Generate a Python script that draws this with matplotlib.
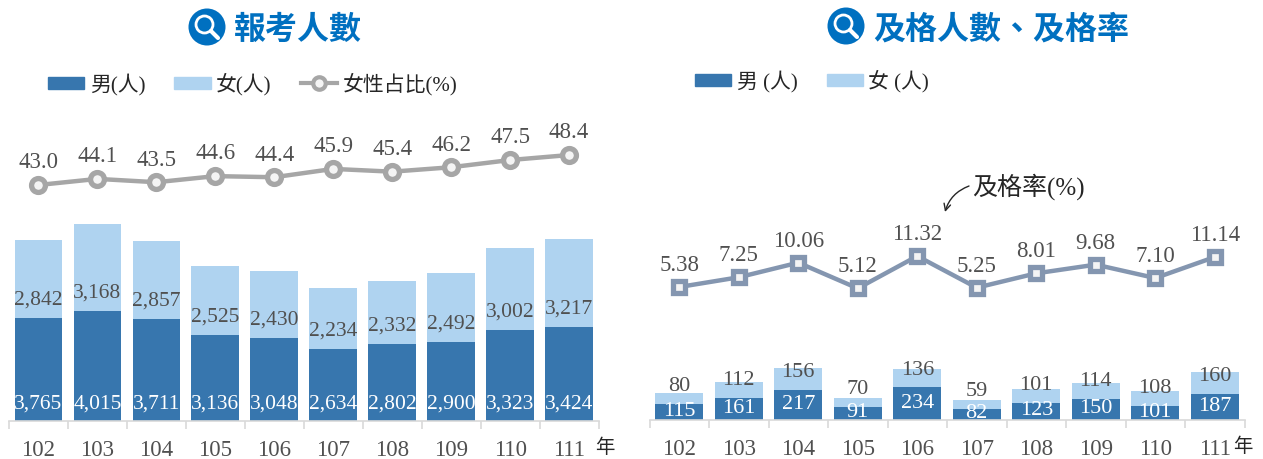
import matplotlib
matplotlib.use("Agg")
import matplotlib.pyplot as plt
from matplotlib.patches import Circle, Patch, FancyArrowPatch
from matplotlib.lines import Line2D

plt.rcParams['font.family'] = ['Liberation Serif', 'Noto Sans CJK TC', 'DejaVu Sans']

years = ['102', '103', '104', '105', '106', '107', '108', '109', '110', '111']
reg_male = [3765, 4015, 3711, 3136, 3048, 2634, 2802, 2900, 3323, 3424]
reg_female = [2842, 3168, 2857, 2525, 2430, 2234, 2332, 2492, 3002, 3217]
female_share = [43.0, 44.1, 43.5, 44.6, 44.4, 45.9, 45.4, 46.2, 47.5, 48.4]
pass_male = [115, 161, 217, 91, 234, 82, 123, 150, 101, 187]
pass_female = [80, 112, 156, 70, 136, 59, 101, 114, 108, 160]
pass_rate = [5.38, 7.25, 10.06, 5.12, 11.32, 5.25, 8.01, 9.68, 7.10, 11.14]

C_M, C_F = '#3776AE', '#AFD3F0'
C_TXT = '#505050'
BLUE = '#0070C0'
W, H = 1263, 459

fig = plt.figure(figsize=(W/100, H/100), dpi=100, facecolor='white')

def make_axes(x0, x1, base, top):
    return fig.add_axes([x0/W, 1-base/H, (x1-x0)/W, (base-top)/H])

def panel(ax, male, female, line, bar_scale, line_ref, line_ref_y, line_scale,
          base, top, line_color, marker, fmt, ms, lab_off):
    x = range(len(years))
    ax.bar(x, male, width=0.81, color=C_M, zorder=2)
    ax.bar(x, female, width=0.81, bottom=male, color=C_F, zorder=2)
    ax.set_xlim(-0.5, len(years)-0.5)
    ax.set_ylim(0, (base-top)/bar_scale)
    for s in ['top', 'left', 'right']:
        ax.spines[s].set_visible(False)
    ax.spines['bottom'].set_color('#D9D9D9')
    ax.spines['bottom'].set_linewidth(1.2)
    ax.set_yticks([])
    ax.set_xticks(list(x))
    ax.set_xticklabels(years, fontsize=16.5, color=C_TXT)
    ax.set_xticks([i-0.5 for i in range(len(years)+1)], minor=True)
    ax.tick_params(axis='x', which='major', length=0, pad=13.5)
    ax.tick_params(axis='x', which='minor', length=6, width=1.2, color='#D9D9D9')
    ax.patch.set_alpha(0)
    tw = ax.twinx()
    tw.set_ylim(line_ref-(base-line_ref_y)/line_scale, line_ref+(line_ref_y-top)/line_scale)
    tw.plot(x, line, color=line_color, lw=3.2, marker=marker, ms=ms, mew=3.8,
            mec=line_color, mfc='#F4F4F4', zorder=3, clip_on=False)
    tw.axis('off')
    for i, v in zip(x, line):
        tw.annotate(fmt.format(v), (i, v), xytext=(0, lab_off), textcoords='offset points',
                    ha='center', va='center', fontsize=16.5, color=C_TXT)
    return tw

# left panel
L_BASE, L_TOP = 421, 130
axl = make_axes(9, 598.5, L_BASE, L_TOP)
panel(axl, reg_male, reg_female, female_share, 0.02736, 43.0, 185, 5.55,
      L_BASE, L_TOP, '#A6A6A6', 'o', '{:.1f}', 10, 16)
for i, (m, f) in enumerate(zip(reg_male, reg_female)):
    axl.annotate(f'{m:,}', (i, 0), xytext=(0, 12.5), textcoords='offset points',
                 ha='center', va='center', fontsize=15.5, color='white', zorder=5)
    axl.annotate(f'{f:,}', (i, m), xytext=(0, 13), textcoords='offset points',
                 ha='center', va='center', fontsize=15.5, color=C_TXT, zorder=5)

# right panel
R_BASE, R_TOP = 420, 130
axr = make_axes(649.5, 1244.5, R_BASE, R_TOP)
panel(axr, pass_male, pass_female, pass_rate, 0.139, 5.38, 287, 5.2,
      R_BASE, R_TOP, '#8496B0', 's', '{:.2f}', 9, 15.5)
for i, (m, f) in enumerate(zip(pass_male, pass_female)):
    axr.annotate(f'{m}', (i, m/2), xytext=(0, 0.5), textcoords='offset points',
                 ha='center', va='center', fontsize=16, color='white', zorder=5)
    axr.annotate(f'{f}', (i, m), xytext=(0, 12.5), textcoords='offset points',
                 ha='center', va='center', fontsize=16, color=C_TXT, zorder=5)

# overlay in pixel coordinates for titles, icons and notes
ov = fig.add_axes([0, 0, 1, 1], zorder=10)
ov.set_xlim(0, W); ov.set_ylim(H, 0); ov.axis('off'); ov.patch.set_alpha(0)

def icon(cx, cy):
    ov.add_patch(Circle((cx, cy), 18.5, fc=BLUE, ec='none'))
    ov.add_patch(Circle((cx-2.5, cy-2.5), 8.5, fc=BLUE, ec='white', lw=2))
    ov.add_line(Line2D([cx+4, cx+11], [cy+4, cy+11], color='white', lw=3, solid_capstyle='round'))

icon(207, 27)
icon(846, 26)
ov.text(297.5, 30.5, '報考人數', fontsize=23, color=BLUE, fontweight='bold', ha='center', va='center')
ov.text(1001, 30, '及格人數、及格率', fontsize=23, color=BLUE, fontweight='bold', ha='center', va='center')
ov.text(605, 448, '年', fontsize=14, color='#262626', ha='center', va='center')
ov.text(1243, 447, '年', fontsize=14, color='#262626', ha='center', va='center')
ov.text(972, 187, '及格率(%)', fontsize=18, color='#262626', ha='left', va='center')
ov.add_patch(FancyArrowPatch((969, 186), (945, 212), connectionstyle='arc3,rad=0.25',
                             arrowstyle='->', mutation_scale=12, color='#262626', lw=1,
                             shrinkA=0, shrinkB=0))

# legends
leg_kw = dict(frameon=False, ncol=3, fontsize=15, handlelength=1.75, handleheight=0.55,
              handletextpad=0.25, columnspacing=1.4, borderpad=0, borderaxespad=0,
              labelcolor='#262626', loc='center left')
fig.legend(handles=[Patch(color=C_M, label='男(人)'), Patch(color=C_F, label='女(人)'),
                    Line2D([], [], color='#A6A6A6', lw=3, marker='o', ms=9, mew=3,
                           mfc='#F4F4F4', label='女性占比(%)')],
           bbox_to_anchor=(48/W, 1-84/H), **leg_kw)
fig.legend(handles=[Patch(color=C_M, label='男 (人)'), Patch(color=C_F, label='女 (人)')],
           bbox_to_anchor=(695/W, 1-81/H), **leg_kw)

fig.savefig('out.png', dpi=100, facecolor='white')
